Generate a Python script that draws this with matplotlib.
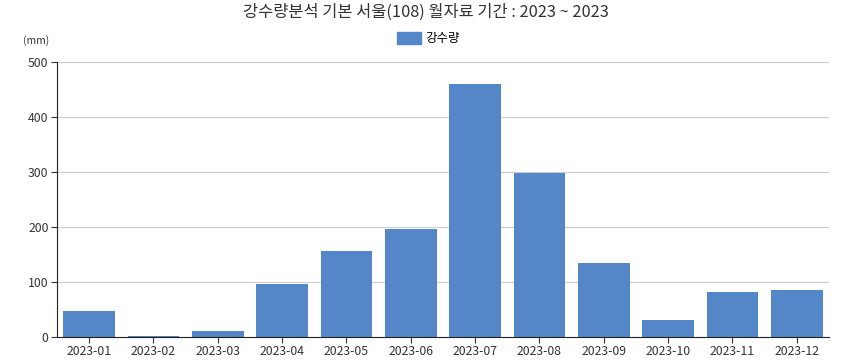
import matplotlib.pyplot as plt
from matplotlib.patches import Patch

plt.rcParams['font.family'] = ['Noto Sans CJK KR', 'DejaVu Sans']

months = ['2023-01', '2023-02', '2023-03', '2023-04', '2023-05', '2023-06',
          '2023-07', '2023-08', '2023-09', '2023-10', '2023-11', '2023-12']
rain = [47.3, 1.5, 10.9, 96.5, 156.0, 196.0, 460.0, 298.0, 134.5, 31.0, 82.0, 85.5]
yticks = [0, 100, 200, 300, 400, 500]

bar_color = '#5387c8'

fig = plt.figure(figsize=(8.52, 3.61), dpi=100)
ax = fig.add_axes([0.0669, 0.0665, 0.9061, 0.7615])

x = range(len(months))
ax.bar(x, rain, width=0.8, color=bar_color, zorder=2)

ax.set_xlim(-0.5, len(months) - 0.5)
ax.set_ylim(0, 500)
ax.set_yticks(yticks)
ax.set_xticks(list(x))
ax.set_xticklabels(months)
ax.tick_params(axis='both', labelsize=8.8, colors='#333333', length=4, width=0.8, pad=2)
ax.grid(axis='y', color='#cccccc', linewidth=0.8, zorder=0)

for s in ['top', 'right']:
    ax.spines[s].set_visible(False)
ax.spines['left'].set_color('#222222')
ax.spines['bottom'].set_color('#222222')

fig.text(0.5, 0.965, '강수량분석 기본 서울(108) 월자료 기간 : 2023 ~ 2023',
         ha='center', va='center', fontsize=11.8, color='#333333')
fig.text(0.042, 0.888, '(mm)', ha='center', va='center', fontsize=7.5, color='#333333')

fig.legend(handles=[Patch(color=bar_color, label='강수량')], loc='center',
           bbox_to_anchor=(0.503, 0.893), frameon=False, fontsize=9,
           handlelength=1.9, handleheight=1.1, handletextpad=0.4)

fig.savefig('out.png', dpi=100)
